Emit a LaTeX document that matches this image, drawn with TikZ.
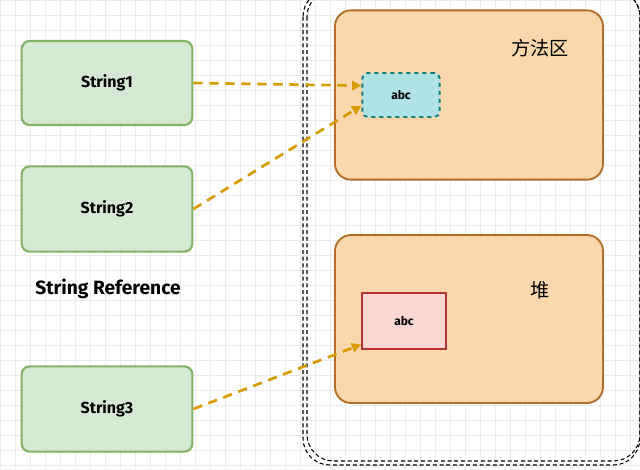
\documentclass[tikz,border=0pt]{standalone}
\usepackage{fontspec}
\setmainfont{Fira Sans}
\newfontfamily\cjk{Noto Sans CJK SC}
\usetikzlibrary{arrows.meta}
\definecolor{refgreen}{RGB}{213,232,212}
\definecolor{refgreenline}{RGB}{130,179,102}
\definecolor{reforange}{RGB}{250,215,172}
\definecolor{reforangeline}{RGB}{180,110,40}
\definecolor{refcyan}{RGB}{176,227,230}
\definecolor{refcyanline}{RGB}{15,125,125}
\definecolor{refpink}{RGB}{250,215,210}
\definecolor{refpinkline}{RGB}{180,50,50}
\definecolor{refarrow}{RGB}{215,155,0}
\begin{document}
\begin{tikzpicture}
[x=0.75pt,y=-0.75pt,
  refbox/.style={draw=refgreenline,fill=refgreen,line width=1.6pt,rounded corners=6pt,font=\large\bfseries},
  areabox/.style={draw=reforangeline,fill=reforange,line width=1.4pt,rounded corners=12pt},
  refarrowdecorate/.style={draw=refarrow,line width=2pt,dash pattern=on 7pt off 5pt,-{Triangle[length=7pt,width=7pt]}}]
\useasboundingbox (0,0) rectangle (640,469);
% background grid
\fill[white] (0,0) rectangle (640,469);
\foreach \g in {0,15,...,630} \draw[black!8] (\g,0) -- (\g,469);
\foreach \g in {0,15,...,465} \draw[black!8] (0,\g) -- (640,\g);
% container
\draw[black,line width=0.8pt,densely dashed,rounded corners=20pt] (303,-10) rectangle (640,465);
\draw[black,line width=0.8pt,densely dashed,rounded corners=20pt] (307,-10) rectangle (640,461);
% nodes or boxes
\node (s1) at (107,83) [refbox,minimum width=128pt,minimum height=63pt] {String1};
\node (s2) at (107,209) [refbox,minimum width=128pt,minimum height=64pt] {String2};
\node (s3) at (107,409) [refbox,minimum width=128pt,minimum height=64pt] {String3};
\node (ref) at (108,289) {\bfseries\Large String Reference};
\node (m) at (469,95) [areabox,minimum width=201pt,minimum height=127pt] {};
\node [font=\cjk\Large] at (540,48) {方法区};
\node (h) at (469,319) [areabox,minimum width=201pt,minimum height=126pt] {};
\node [font=\cjk\Large] at (540,290) {堆};
\node (c) at (401,95) [draw=refcyanline,fill=refcyan,line width=1.4pt,dashed,rounded corners=4pt,minimum width=58pt,minimum height=33pt,font=\small\bfseries] {abc};
\node (p) at (404,321) [draw=refpinkline,fill=refpink,line width=1.2pt,minimum width=63pt,minimum height=42pt,font=\small\bfseries] {abc};
% edges or arrows
\path
(s1.east) edge[refarrowdecorate] ([yshift=7pt]c.west)
(s2.east) edge[refarrowdecorate] ([yshift=-8pt]c.west)
(s3.east) edge[refarrowdecorate] ([yshift=4pt]p.south west);
\end{tikzpicture}
\end{document}
